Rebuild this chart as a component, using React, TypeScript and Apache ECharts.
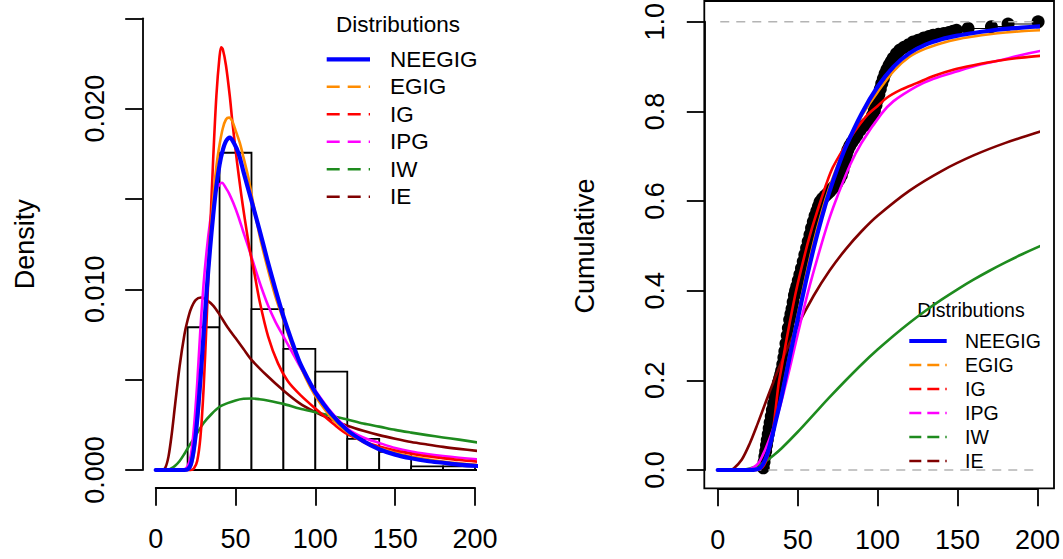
import React, { useEffect, useRef } from "react";
import * as echarts from "echarts";

const FONT = '"Liberation Sans", Arial, Helvetica, sans-serif';

// ---- names / colours ----
const distNames = ["NEEGIG", "EGIG", "IG", "IPG", "IW", "IE"];
const distColors = ["#0000FF", "#FF8C00", "#FF0000", "#FF00FF", "#1E8B1E", "#800000"];
const legendDashed = [false, true, true, true, true, true];
const legendTitle = "Distributions";

// ---- axes ----
const xTickValues = [0, 50, 100, 150, 200];
const densityTicks = [0, 0.005, 0.01, 0.015, 0.02, 0.025];
const densityTickLabels = ["0.000", "", "0.010", "", "0.020", ""];
const cdfTicks = [0, 0.2, 0.4, 0.6, 0.8, 1];
const cdfTickLabels = ["0.0", "0.2", "0.4", "0.6", "0.8", "1.0"];

// ---- histogram ----
const histBreaks = [20, 40, 60, 80, 100, 120, 140, 160, 180, 200];
const histDensity = [0.0079, 0.01756, 0.0089, 0.0067, 0.00544, 0.00172, 0.001, 0.0002, 0.0002];
const histBaselineX = [0, 210];

// ---- fitted densities (x, f(x)) ----
const pdfNEEGIG = [[0,0],[18,0],[20,0.00003],[22,0.0003],[24,0.0012],[26,0.0028],[28,0.005],[30,0.0075],[32,0.01],[34,0.0122],[36,0.0141],[38,0.0157],[40,0.0169],[42,0.0177],[44,0.0182],[46.4,0.0184],[49,0.0181],[52,0.0175],[55,0.0165],[60,0.0149],[65,0.0133],[70,0.0116],[75,0.01],[80,0.0085],[85,0.0072],[90,0.006],[95,0.0051],[100,0.0043],[110,0.0031],[120,0.0022],[130,0.0016],[140,0.00115],[150,0.00085],[160,0.00065],[170,0.0005],[180,0.0004],[190,0.0003],[202,0.00022]];
const pdfEGIG = [[0,0],[18,0],[20,0.00002],[22,0.0002],[24,0.001],[26,0.0025],[28,0.0047],[30,0.0073],[32,0.0101],[34,0.0127],[36,0.015],[38,0.0168],[40,0.018],[42,0.0189],[44,0.0194],[46,0.0195],[48,0.0193],[50,0.0188],[52.7,0.0181],[55,0.0173],[58,0.0162],[61,0.0148],[65,0.013],[70,0.0112],[75,0.0096],[80,0.0083],[85,0.007],[90,0.0059],[95,0.0049],[100,0.0041],[110,0.0029],[120,0.0021],[130,0.00155],[140,0.0012],[150,0.00095],[160,0.00074],[170,0.0006],[180,0.00047],[190,0.00037],[202,0.00028]];
const pdfIG = [[0,0],[22,0],[24,0.0001],[26,0.0005],[28,0.0018],[30,0.0045],[32,0.0085],[34,0.013],[36,0.0172],[38,0.0207],[40,0.0229],[41,0.0234],[42,0.0233],[44,0.0224],[46.4,0.0207],[48,0.0193],[51,0.017],[53.5,0.0153],[55.8,0.0139],[58.9,0.0122],[62,0.0108],[65.2,0.0093],[70.4,0.0074],[76.6,0.0059],[82.9,0.0049],[91.2,0.0041],[100,0.0034],[112,0.0025],[120,0.00198],[130,0.0016],[140,0.0013],[150,0.00108],[160,0.0009],[170,0.00076],[180,0.00065],[190,0.00055],[202,0.00046]];
const pdfIPG = [[0,0],[16,0],[18,0.00003],[20,0.0002],[22,0.0008],[24,0.0024],[26,0.0048],[28,0.0078],[30,0.0103],[32,0.0122],[34,0.0137],[36,0.0148],[38,0.0155],[40,0.0158],[41.5,0.0159],[44,0.0156],[46,0.0153],[48.5,0.0148],[51.5,0.0141],[54.8,0.0132],[58.9,0.0121],[62.1,0.0112],[66.2,0.0101],[70.4,0.0091],[75,0.0082],[80,0.0074],[85,0.0066],[91.2,0.0056],[100,0.0044],[110,0.0032],[120,0.0023],[130,0.0018],[140,0.0015],[150,0.00122],[160,0.00102],[170,0.00088],[180,0.00077],[190,0.00068],[202,0.00059]];
const pdfIW = [[0,0],[5,0],[8,0.00002],[10,0.0001],[12,0.00022],[15,0.0005],[18,0.0009],[20,0.0012],[25,0.0019],[30,0.0026],[35,0.0031],[40,0.0035],[45,0.0037],[50,0.00385],[55,0.00394],[60,0.00396],[65,0.00392],[70,0.00385],[80,0.00366],[90,0.0034],[100,0.0032],[110,0.003],[120,0.0028],[130,0.00257],[140,0.0024],[150,0.00222],[160,0.00207],[170,0.00193],[180,0.0018],[190,0.00168],[202,0.00152]];
const pdfIE = [[0,0],[4,0],[6,0.00012],[8,0.00074],[10,0.00196],[12,0.0035],[15,0.00575],[18,0.0075],[20,0.0083],[22,0.0089],[25,0.0094],[28.4,0.00955],[32,0.0094],[36,0.0091],[40,0.0086],[45,0.0079],[50,0.0073],[55,0.0067],[60,0.0061],[70,0.0052],[80,0.0044],[90,0.0037],[100,0.0032],[110,0.0028],[120,0.00245],[130,0.00217],[140,0.00193],[150,0.00173],[160,0.00155],[170,0.00141],[180,0.00128],[190,0.00117],[202,0.00105]];

// ---- fitted CDFs (x, F(x)) ----
const cdfNEEGIG = [[0,0],[20,0],[24,0.001],[27,0.006],[30,0.025],[33,0.06],[36,0.105],[40,0.165],[45,0.252],[50,0.336],[55,0.418],[60,0.494],[65,0.562],[70,0.622],[75,0.674],[80,0.72],[90,0.795],[100,0.855],[110,0.9],[120,0.93],[130,0.949],[140,0.961],[150,0.969],[160,0.975],[170,0.98],[180,0.984],[190,0.987],[202,0.99]];
const cdfEGIG = [[0,0],[20,0],[24,0.001],[27,0.005],[30,0.022],[33,0.058],[36,0.105],[40,0.168],[45,0.258],[50,0.345],[55,0.43],[60,0.508],[65,0.575],[70,0.632],[75,0.68],[80,0.722],[90,0.79],[100,0.843],[110,0.89],[120,0.922],[130,0.94],[140,0.952],[150,0.961],[160,0.967],[170,0.972],[180,0.976],[190,0.979],[202,0.981]];
const cdfIG = [[0,0],[22,0],[25,0.0005],[28,0.006],[30,0.018],[32,0.04],[35,0.1],[38,0.19],[40,0.23],[43,0.29],[47.3,0.37],[50,0.415],[55,0.488],[57.7,0.524],[60,0.552],[65,0.607],[68.1,0.64],[72,0.675],[78.5,0.716],[85,0.752],[93.1,0.79],[100,0.812],[105.6,0.83],[115,0.849],[124.4,0.863],[135,0.879],[147.3,0.893],[160,0.903],[176.4,0.9136],[190,0.92],[202,0.924]];
const cdfIPG = [[0,0],[16,0],[18,0.0005],[20,0.002],[22,0.005],[24,0.01],[26,0.018],[28,0.032],[30,0.048],[34,0.085],[37.9,0.128],[42,0.183],[45,0.226],[48.3,0.276],[52,0.332],[56,0.39],[60,0.443],[65,0.505],[70,0.563],[75,0.612],[82.7,0.68],[90,0.73],[102.5,0.795],[110,0.823],[124.4,0.856],[135,0.873],[149.4,0.889],[165,0.905],[180,0.917],[190,0.926],[202,0.935]];
const cdfIW = [[0,0],[10,0],[15,0.0006],[20,0.0034],[25,0.0097],[30,0.0196],[35,0.033],[40,0.0486],[50,0.0848],[60,0.1236],[70,0.1624],[80,0.1997],[90,0.2355],[100,0.2687],[110,0.2997],[120,0.3286],[130,0.3553],[140,0.38],[150,0.4031],[160,0.4246],[170,0.4445],[180,0.4631],[190,0.4807],[202,0.5]];
const cdfIE = [[0,0],[5,0],[8,0.0008],[10,0.0034],[15,0.0228],[20,0.0587],[25,0.1035],[30,0.151],[35,0.198],[40,0.2423],[50,0.3217],[60,0.3887],[70,0.4449],[80,0.4923],[90,0.5326],[100,0.5672],[120,0.6234],[140,0.667],[160,0.7018],[180,0.7298],[202,0.7552]];

// ---- empirical CDF points (x, Fn(x)) ----
const ecdfPoints = [[28.5,0.005],[29.0,0.018],[29.5,0.03],[30.0,0.042],[30.5,0.055],[31.0,0.067],[31.6,0.08],[32.2,0.093],[32.8,0.106],[33.5,0.12],[34.2,0.134],[35.0,0.148],[35.8,0.162],[36.5,0.173],[37.3,0.184],[38.0,0.195],[38.7,0.204],[39.4,0.213],[40.0,0.222],[40.7,0.236],[41.4,0.251],[42.0,0.265],[42.7,0.282],[43.5,0.3],[44.2,0.317],[45.0,0.335],[45.8,0.348],[46.5,0.36],[47.2,0.375],[48.0,0.39],[48.7,0.4],[49.5,0.41],[50.4,0.423],[51.4,0.436],[52.4,0.45],[53.5,0.465],[54.5,0.48],[55.6,0.495],[56.6,0.51],[57.7,0.525],[58.7,0.54],[59.8,0.554],[60.9,0.567],[62.0,0.578],[63.0,0.588],[64.0,0.598],[65.5,0.605],[67.0,0.611],[68.5,0.616],[70.0,0.621],[71.5,0.627],[73.0,0.633],[74.5,0.64],[76.0,0.648],[77.3,0.657],[78.3,0.668],[79.1,0.68],[79.8,0.692],[80.5,0.704],[81.4,0.714],[82.6,0.723],[84.0,0.731],[85.5,0.739],[87.0,0.747],[89.0,0.758],[91.0,0.767],[93.0,0.772],[95.2,0.78],[96.8,0.791],[98.0,0.802],[99.0,0.814],[99.9,0.826],[100.8,0.838],[101.7,0.85],[102.6,0.862],[103.6,0.873],[104.7,0.884],[105.8,0.893],[107.2,0.903],[108.5,0.911],[109.8,0.919],[111.8,0.929],[113.9,0.937],[116.5,0.943],[119.5,0.949],[122.3,0.955],[125.5,0.959],[129.0,0.964],[132.0,0.967],[134.8,0.97],[138.0,0.972],[141.5,0.974],[144.5,0.976],[147.3,0.979],[149.4,0.981],[156.6,0.985],[171.2,0.989],[181.6,0.995],[200.4,1.0]];

// ---- reference lines on the CDF panel ----
const refLevels = [0, 1];
const refLineX = [-8.4, 209.3];

const pdfs = [pdfNEEGIG, pdfEGIG, pdfIG, pdfIPG, pdfIW, pdfIE];
const cdfs = [cdfNEEGIG, cdfEGIG, cdfIG, cdfIPG, cdfIW, cdfIE];

function tickLabel(ticks: number[], labels: string[]) {
  return (v: number) => {
    let best = 0;
    for (let i = 0; i < ticks.length; i++) {
      if (Math.abs(ticks[i] - v) < Math.abs(ticks[best] - v)) best = i;
    }
    return labels[best];
  };
}

function xAxisCfg(gridIndex: number, offset: number) {
  return {
    gridIndex,
    type: "value",
    min: xTickValues[0],
    max: xTickValues[xTickValues.length - 1],
    interval: xTickValues[1] - xTickValues[0],
    offset,
    axisLine: { show: true, onZero: false, lineStyle: { color: "#000", width: 1.8 } },
    axisTick: { show: true, length: 18, lineStyle: { color: "#000", width: 1.8 } },
    axisLabel: { fontSize: 27, color: "#000", margin: 38, fontFamily: FONT },
    splitLine: { show: false },
  };
}

function yAxisCfg(gridIndex: number, offset: number, ticks: number[], labels: string[], name: string, margin: number, nameGap: number) {
  return {
    gridIndex,
    type: "value",
    min: ticks[0],
    max: ticks[ticks.length - 1],
    interval: ticks[1] - ticks[0],
    offset,
    name,
    nameLocation: "middle",
    nameRotate: 90,
    nameGap,
    nameTextStyle: { fontSize: 27, color: "#000", fontFamily: FONT },
    axisLine: { show: true, onZero: false, lineStyle: { color: "#000", width: 1.8 } },
    axisTick: { show: true, length: 17.5, lineStyle: { color: "#000", width: 1.8 } },
    axisLabel: {
      fontSize: 27,
      color: "#000",
      margin,
      rotate: 90,
      fontFamily: FONT,
      formatter: tickLabel(ticks, labels),
    },
    splitLine: { show: false },
  };
}

function curveSeries(data: number[][], i: number, gridIndex: number) {
  return {
    type: "line",
    name: distNames[i],
    xAxisIndex: gridIndex,
    yAxisIndex: gridIndex,
    data,
    symbol: "none",
    showSymbol: false,
    smooth: 0.3,
    clip: false,
    silent: true,
    lineStyle: { color: distColors[i], width: i === 0 ? 4.2 : 2.6, cap: "round", join: "round" },
  };
}

function legendGraphics(cfg: {
  lineX1: number; lineX2: number; textX: number; titleX: number; titleY: number;
  firstY: number; step: number; fontSize: number; dash: number[];
}) {
  const els: any[] = [
    {
      type: "text",
      x: cfg.titleX,
      y: cfg.titleY,
      silent: true,
      style: { text: legendTitle, fontSize: cfg.fontSize, fontFamily: FONT, fill: "#000", align: "center", verticalAlign: "middle" },
    },
  ];
  distNames.forEach((n, i) => {
    const y = cfg.firstY + i * cfg.step;
    els.push({
      type: "line",
      silent: true,
      shape: { x1: cfg.lineX1, y1: y, x2: cfg.lineX2, y2: y },
      style: {
        stroke: distColors[i],
        lineWidth: i === 0 ? 4.2 : 2.6,
        lineDash: legendDashed[i] ? cfg.dash : null,
      },
    });
    els.push({
      type: "text",
      x: cfg.textX,
      y,
      silent: true,
      style: { text: n, fontSize: cfg.fontSize, fontFamily: FONT, fill: "#000", align: "left", verticalAlign: "middle" },
    });
  });
  return els;
}

export default function App() {
  const ref = useRef<HTMLDivElement>(null);

  useEffect(() => {
    if (!ref.current) return;
    const chart = echarts.init(ref.current, null, { renderer: "svg" });
    const drawOrder = [5, 4, 3, 2, 1, 0];

    const series: any[] = [];
    // histogram
    series.push({
      type: "custom",
      xAxisIndex: 0,
      yAxisIndex: 0,
      silent: true,
      clip: false,
      data: histDensity.map((d, i) => [histBreaks[i], histBreaks[i + 1], d]),
      encode: { x: [0, 1], y: 2 },
      renderItem: (_p: any, api: any) => {
        const p0 = api.coord([api.value(0), 0]);
        const p1 = api.coord([api.value(1), api.value(2)]);
        return {
          type: "rect",
          shape: { x: p0[0], y: p1[1], width: p1[0] - p0[0], height: p0[1] - p1[1] },
          style: { fill: "#fff", stroke: "#000", lineWidth: 1.8 },
        };
      },
    });
    series.push({
      type: "line",
      xAxisIndex: 0,
      yAxisIndex: 0,
      data: histBaselineX.map((x) => [x, 0]),
      symbol: "none",
      clip: false,
      silent: true,
      lineStyle: { color: "#000", width: 1.8 },
    });
    drawOrder.forEach((i) => series.push(curveSeries(pdfs[i], i, 0)));

    // CDF panel
    refLevels.forEach((lv) =>
      series.push({
        type: "line",
        xAxisIndex: 1,
        yAxisIndex: 1,
        data: refLineX.map((x) => [x, lv]),
        symbol: "none",
        clip: false,
        silent: true,
        lineStyle: { color: "#b4b4b4", width: 1.6, type: [9, 7] },
      })
    );
    series.push({
      type: "line",
      xAxisIndex: 1,
      yAxisIndex: 1,
      data: ecdfPoints,
      step: "end",
      symbol: "none",
      clip: false,
      silent: true,
      lineStyle: { color: "#000", width: 1.2 },
    });
    series.push({
      type: "scatter",
      xAxisIndex: 1,
      yAxisIndex: 1,
      data: ecdfPoints,
      symbol: "circle",
      symbolSize: 13,
      clip: false,
      silent: true,
      itemStyle: { color: "#000", opacity: 1 },
    });
    drawOrder.forEach((i) => series.push(curveSeries(cdfs[i], i, 1)));

    const option: any = {
      animation: false,
      backgroundColor: "#ffffff",
      textStyle: { fontFamily: FONT },
      grid: [
        { left: 155.7, right: 588, top: 18.3, bottom: 89 },
        { left: 717.7, right: 25.3, top: 18.3, bottom: 89 },
      ],
      xAxis: [xAxisCfg(0, 17.7), xAxisCfg(1, 18.3)],
      yAxis: [
        yAxisCfg(0, 13, densityTicks, densityTickLabels, "Density", 34, 104),
        yAxisCfg(1, 13.4, cdfTicks, cdfTickLabels, "Cumulative", 36, 106),
      ],
      series,
      graphic: [
        {
          type: "rect",
          silent: true,
          shape: { x: 704.3, y: 1, width: 349.7, height: 487.3 },
          style: { fill: "none", stroke: "#000", lineWidth: 1.8 },
          z: 50,
        },
        ...legendGraphics({ lineX1: 326.7, lineX2: 370, textX: 390, titleX: 398, titleY: 24, firstY: 59.3, step: 27.5, fontSize: 22.5, dash: [13, 8] }),
        ...legendGraphics({ lineX1: 909.3, lineX2: 946.7, textX: 965, titleX: 971, titleY: 310, firstY: 341, step: 24, fontSize: 19.5, dash: [12, 6] }),
      ],
    };
    chart.setOption(option);
    return () => chart.dispose();
  }, []);

  return (
    <div
      ref={ref}
      style={{ position: "absolute", left: 0, top: 0, width: 1063, height: 559, background: "#fff" }}
    />
  );
}
